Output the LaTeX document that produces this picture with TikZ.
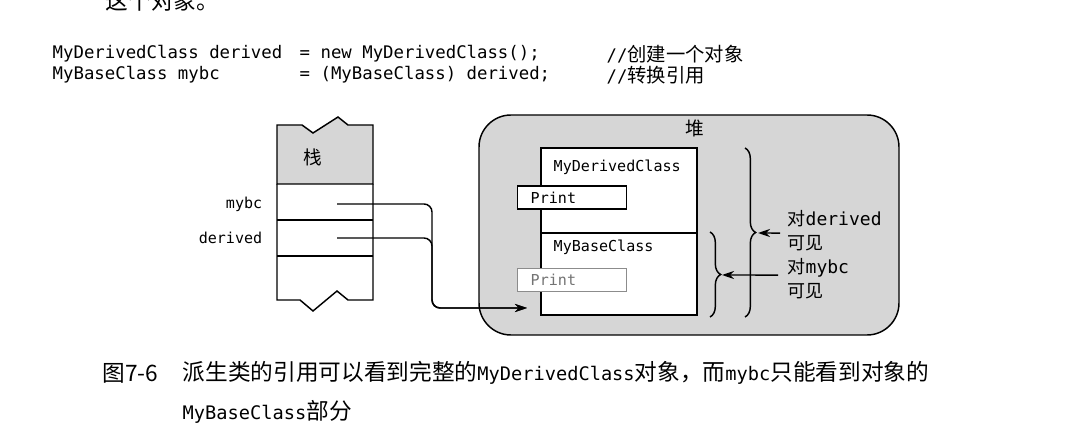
\documentclass[tikz,border=0pt]{standalone}
\usepackage{fontspec}
\newfontfamily\cjk{Noto Sans CJK SC}
\newfontfamily\code{DejaVu Sans Mono}
\usetikzlibrary{arrows.meta,decorations.pathreplacing}
\definecolor{memgray}{gray}{0.84}

\begin{document}
\begin{tikzpicture}[x=0.75pt,y=-0.75pt,line width=1.1pt,
  every node/.style={inner sep=0pt},
  codetext/.style={anchor=west,font=\code\fontsize{13}{15}\selectfont},
  notetext/.style={anchor=west,font=\fontsize{14.5}{16}\selectfont},
  celltext/.style={font=\code\fontsize{11.3}{13}\selectfont},
  areatext/.style={font=\cjk\fontsize{14}{16}\selectfont},
  seetext/.style={anchor=west,align=left,font=\fontsize{13.5}{18.2}\selectfont},
  captext/.style={anchor=west,font=\cjk\fontsize{17}{20}\selectfont},
  printbox/.style={draw,fill=white,anchor=west,align=left,inner xsep=9.75pt,
    text width=62.25pt,minimum height=17.25pt,celltext},
  ref/.style={-{Stealth[length=9pt,width=6pt]},rounded corners=6pt},
  vis/.style={decorate,decoration={brace,amplitude=8pt}}]
\useasboundingbox (0,0) rectangle (1065,434);

% text above the figure
\node[captext] (prevline) at (105,1) {这个对象。};
\node[codetext] (c1a) at (52,54) {MyDerivedClass derived};
\node[codetext] (c1b) at (299,54) {= new MyDerivedClass();};
\node[notetext] (c1c) at (606,54) {{\code\fontsize{13}{15}\selectfont //}\cjk 创建一个对象};
\node[codetext] (c2a) at (52,75) {MyBaseClass mybc};
\node[codetext] (c2b) at (299,75) {= (MyBaseClass) derived;};
\node[notetext] (c2c) at (606,75) {{\code\fontsize{13}{15}\selectfont //}\cjk 转换引用};

% stack
\draw[fill=memgray] (277,125) -- (302,125) -- (313,133) -- (338,117) -- (348,125)
  -- (373,125) -- (373,184) -- (277,184) -- cycle;
\draw (277,184) -- (277,300) -- (300,300) -- (313,311) -- (337,291) -- (348,300)
  -- (373,300) -- (373,184);
\draw (277,220) -- (373,220);
\draw (277,256) -- (373,256);
\node[areatext] (stacklbl) at (313,157) {栈};
\node[celltext,anchor=east] (mybclbl) at (263,204) {mybc};
\node[celltext,anchor=east] (derivedlbl) at (263,238) {derived};
\coordinate (mybcptr) at (337,204);
\coordinate (derivedptr) at (337,238);

% heap
\draw[fill=memgray,rounded corners=24pt] (479,115) rectangle (899,335);
\node[areatext] (heaplbl) at (695,128) {堆};
\draw[fill=white] (541,148) rectangle (697,315);
\draw (541,233) -- (697,233);
\node[celltext,anchor=west] (derivedcls) at (553,167) {MyDerivedClass};
\node[celltext,anchor=west] (basecls) at (553,247) {MyBaseClass};
\node[printbox] (print1) at (517,197.5) {Print};
\node[printbox,draw=black!45,text=black!55] (print2) at (517,280) {Print};
\coordinate (objin) at (527,308);
\coordinate (bend) at (432,308);

% references
\draw[ref] (mybcptr) -| (bend) -- (objin);
\draw[ref] (derivedptr) -| (bend) -- (objin);

% visible parts
\draw[vis] (745,148) -- (745,317);
\draw[vis] (710,232) -- (710,317);
\node[seetext] (seederived) at (787,230.5) {\cjk 对\code derived\\\cjk 可见};
\node[seetext] (seembc) at (787,278.5) {\cjk 对\code mybc\\\cjk 可见};
\draw[ref] ([xshift=-5.25pt,yshift=-1.9pt]seederived.west) -- (758,233);
\draw[ref] ([xshift=-6.75pt,yshift=2.6pt]seembc.west) -- (722,275);

% caption
\node[captext] (capnum) at (102,373) {图7-6};
\node[captext] (capline1) at (182,373) {派生类的引用可以看到完整的{\code\fontsize{14}{20}\selectfont MyDerivedClass}对象，而{\code\fontsize{14}{20}\selectfont mybc}只能看到对象的};
\node[captext] (capline2) at (182,412) {{\code\fontsize{14}{20}\selectfont MyBaseClass}部分};
\end{tikzpicture}
\end{document}
